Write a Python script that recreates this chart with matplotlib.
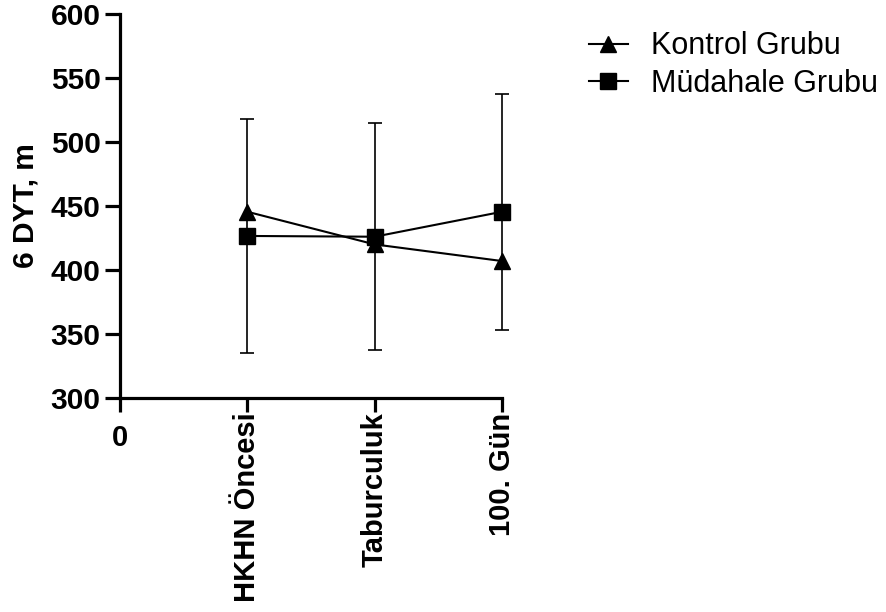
import matplotlib
matplotlib.use("Agg")
import matplotlib.pyplot as plt
from matplotlib.lines import Line2D
from matplotlib.transforms import ScaledTranslation

categories = ["HKHN Öncesi", "Taburculuk", "100. Gün"]
x_pos = [1, 2, 3]
kontrol_mean = [445.5, 420, 407]
mudahale_mean = [426.6, 426, 445.5]
mudahale_sd = [91.6, 88.5, 92]
series_names = ["Kontrol Grubu", "Müdahale Grubu"]
y_ticks = [300, 350, 400, 450, 500, 550, 600]

plt.rcParams['font.family'] = ['Liberation Sans', 'DejaVu Sans']

W, H = 886, 612
fig = plt.figure(figsize=(W / 100, H / 100), dpi=100)
left, right, top, bottom = 120, 502, 14, 398
ax = fig.add_axes([left / W, 1 - bottom / H, (right - left) / W, (bottom - top) / H])

ax.errorbar(x_pos, mudahale_mean, yerr=mudahale_sd, color='black', lw=1.5,
            marker='s', ms=11, capsize=5, elinewidth=1.2, capthick=1.2,
            clip_on=False, zorder=3)
ax.plot(x_pos, kontrol_mean, color='black', lw=1.5, marker='^', ms=11,
        clip_on=False, zorder=4)

ax.set_xlim(0, 3)
ax.set_ylim(300, 600)
ax.set_yticks(y_ticks)
ax.set_yticklabels([str(v) for v in y_ticks], fontsize=21.5, fontweight='bold')
ax.set_xticks([0] + x_pos)
ax.set_xticklabels([""] + categories, fontsize=21, fontweight='bold', rotation=90,
                   va='top', ha='center')

# the "0" tick label sits horizontally, a bit lower than the rotated ones
ax.text(0, 0, "0", transform=ax.get_xaxis_transform() +
        ScaledTranslation(0, -26 / 100, fig.dpi_scale_trans),
        ha='center', va='top', fontsize=21, fontweight='bold')

for s in ['top', 'right']:
    ax.spines[s].set_visible(False)
for s in ['left', 'bottom']:
    ax.spines[s].set_linewidth(2.3)
ax.tick_params(axis='y', length=11, width=2.3, pad=3)
ax.tick_params(axis='x', length=10, width=2.3, pad=0.5)
ax.set_ylabel("6 DYT, m", fontsize=21.5, fontweight='bold', labelpad=8)

handles = [Line2D([], [], color='black', lw=1.5, marker='^', ms=11),
           Line2D([], [], color='black', lw=1.5, marker='s', ms=11)]
fig.legend(handles, series_names, loc='upper left', bbox_to_anchor=(561 / W, 1 - 4 / H),
           frameon=False, fontsize=22, handlelength=1.3, handletextpad=0.75,
           labelspacing=0.25)

fig.savefig("out.png", dpi=100)
